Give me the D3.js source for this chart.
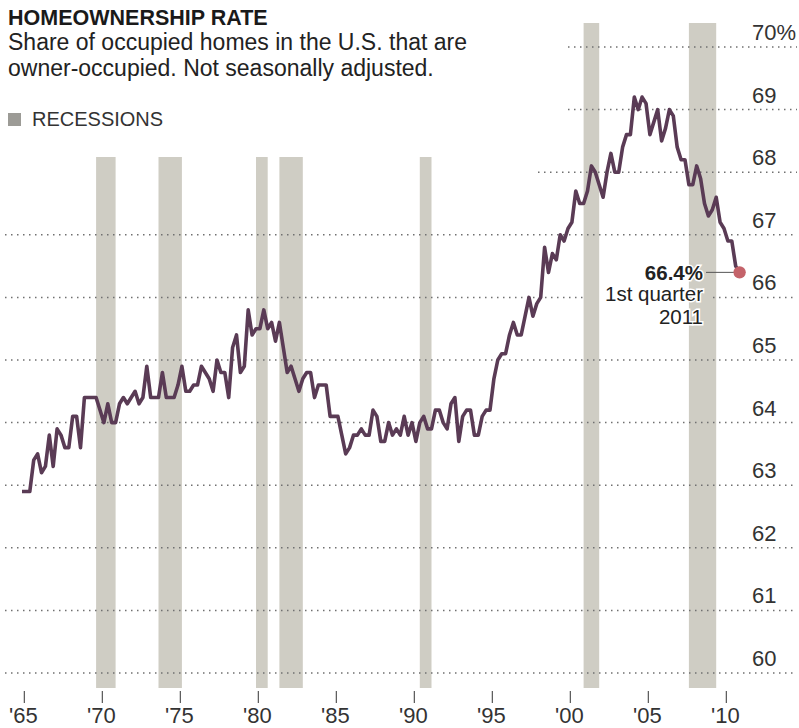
<!DOCTYPE html>
<html>
<head>
<meta charset="utf-8">
<script src="https://cdn.jsdelivr.net/npm/d3@7"></script>
<style>
  body { margin: 0; background: #fff; }
  svg { display: block; }
  text { font-family: "Liberation Sans", Arial, sans-serif; }
</style>
</head>
<body>
<svg id="chart"></svg>
<script>
// quarterly homeownership rate, 1965 Q1 .. 2011 Q1
const startYear = 1965;
const rates = [
  62.9, 62.9, 62.9, 63.4,   // 1965
  63.5, 63.2, 63.3, 63.8,   // 1966
  63.3, 63.9, 63.8, 63.6,   // 1967
  63.6, 64.1, 64.1, 63.6,   // 1968
  64.4, 64.4, 64.4, 64.4,   // 1969
  64.2, 64.0, 64.3, 64.0,   // 1970
  64.0, 64.3, 64.4, 64.3,   // 1971
  64.4, 64.5, 64.3, 64.4,   // 1972
  64.9, 64.4, 64.4, 64.4,   // 1973
  64.8, 64.4, 64.4, 64.4,   // 1974
  64.6, 64.9, 64.5, 64.5,   // 1975
  64.6, 64.6, 64.9, 64.8,   // 1976
  64.7, 64.5, 65.0, 64.8,   // 1977
  64.8, 64.4, 65.2, 65.4,   // 1978
  64.8, 64.9, 65.8, 65.4,   // 1979
  65.5, 65.5, 65.8, 65.5,   // 1980
  65.6, 65.3, 65.6, 65.2,   // 1981
  64.8, 64.9, 64.7, 64.5,   // 1982
  64.7, 64.8, 64.8, 64.4,   // 1983
  64.6, 64.6, 64.6, 64.1,   // 1984
  64.1, 64.1, 63.8, 63.5,   // 1985
  63.6, 63.8, 63.8, 63.9,   // 1986
  63.8, 63.8, 64.2, 64.1,   // 1987
  63.7, 63.7, 64.0, 63.8,   // 1988
  63.9, 63.8, 64.1, 63.8,   // 1989
  64.0, 63.7, 64.0, 64.1,   // 1990
  63.9, 63.9, 64.2, 64.2,   // 1991
  64.0, 63.9, 64.3, 64.4,   // 1992
  63.7, 64.1, 64.2, 64.2,   // 1993
  63.8, 63.8, 64.1, 64.2,   // 1994
  64.2, 64.7, 65.0, 65.1,   // 1995
  65.1, 65.4, 65.6, 65.4,   // 1996
  65.4, 65.7, 66.0, 65.7,   // 1997
  65.9, 66.0, 66.8, 66.4,   // 1998
  66.7, 66.6, 67.0, 66.9,   // 1999
  67.1, 67.2, 67.7, 67.5,   // 2000
  67.5, 67.7, 68.1, 68.0,   // 2001
  67.8, 67.6, 68.0, 68.3,   // 2002
  68.0, 68.0, 68.4, 68.6,   // 2003
  68.6, 69.2, 69.0, 69.2,   // 2004
  69.1, 68.6, 68.8, 69.0,   // 2005
  68.5, 68.7, 69.0, 68.9,   // 2006
  68.4, 68.2, 68.2, 67.8,   // 2007
  67.8, 68.1, 67.9, 67.5,   // 2008
  67.3, 67.4, 67.6, 67.2,   // 2009
  67.1, 66.9, 66.9, 66.5,   // 2010
  66.4                      // 2011
];

// recession periods, in decimal years (quarter boundaries)
const recessionStarts = [1969.75, 1973.75, 1980.0, 1981.5, 1990.5, 2001.0, 2007.75];
const recessionEnds   = [1971.0, 1975.25, 1980.75, 1983.0, 1991.25, 2002.0, 2009.5];

const yTicks = [60, 61, 62, 63, 64, 65, 66, 67, 68, 69, 70];
const yTickLabels = ["60", "61", "62", "63", "64", "65", "66", "67", "68", "69", "70%"];
const xTickYears = [1965, 1970, 1975, 1980, 1985, 1990, 1995, 2000, 2005, 2010];
const xTickLabels = ["'65", "'70", "'75", "'80", "'85", "'90", "'95", "'00", "'05", "'10"];

const width = 799, height = 728;
const svg = d3.select("#chart").attr("width", width).attr("height", height);

const x = d3.scaleLinear().domain([1965, 2011]).range([22, 739.6]);
const y = d3.scaleLinear().domain([60, 70]).range([673, 47]);

const series = rates.map((v, i) => ({ t: startYear + i / 4, v: v }));
const last = series[series.length - 1];

// recession bars
const recessions = recessionStarts.map((s, i) => ({ s: s, e: recessionEnds[i] }));
svg.append("g").selectAll("rect")
  .data(recessions)
  .join("rect")
  .attr("x", d => x(d.s))
  .attr("width", d => x(d.e) - x(d.s))
  .attr("y", d => d.s >= 2000 ? 23 : 157)
  .attr("height", d => 688 - (d.s >= 2000 ? 23 : 157))
  .attr("fill", "#cfcdc4");

// dotted gridlines (some shortened or broken around the text)
function gridSegments(v) {
  if (v === 70 || v === 69) return [[568, 797]];
  if (v === 68) return [[538, 797]];
  if (v === 66) return [[5, 583], [713, 797]];
  return [[5, 797]];
}
const grid = svg.append("g");
yTicks.forEach(v => {
  gridSegments(v).forEach(([a, b]) => {
    grid.append("line")
      .attr("x1", a).attr("x2", b)
      .attr("y1", y(v)).attr("y2", y(v))
      .attr("stroke", "#707070")
      .attr("stroke-width", 1.5)
      .attr("stroke-dasharray", "1.5,4.5");
  });
});

// y labels
svg.append("g").selectAll("text")
  .data(yTicks)
  .join("text")
  .attr("x", 752)
  .attr("y", d => y(d) - 7)
  .attr("font-size", "22px")
  .attr("fill", "#333")
  .text((d, i) => yTickLabels[i]);

// x ticks and labels
const xt = svg.append("g");
xTickYears.forEach((yr, i) => {
  const px = x(yr + 0.15);
  xt.append("line")
    .attr("x1", px).attr("x2", px)
    .attr("y1", 691).attr("y2", 703)
    .attr("stroke", "#555")
    .attr("stroke-width", 1.2);
  xt.append("text")
    .attr("x", px - 1)
    .attr("y", 723)
    .attr("text-anchor", "middle")
    .attr("font-size", "22px")
    .attr("fill", "#333")
    .text(xTickLabels[i]);
});

// the line
const line = d3.line().x(d => x(d.t)).y(d => y(d.v));
svg.append("path")
  .datum(series)
  .attr("d", line)
  .attr("fill", "none")
  .attr("stroke", "#5a3b55")
  .attr("stroke-width", 3.6)
  .attr("stroke-linejoin", "round");

// annotation for the latest value
svg.append("line")
  .attr("x1", 706).attr("x2", x(last.t) - 4)
  .attr("y1", y(last.v)).attr("y2", y(last.v))
  .attr("stroke", "#555").attr("stroke-width", 1);
svg.append("circle")
  .attr("cx", x(last.t)).attr("cy", y(last.v))
  .attr("r", 6.2)
  .attr("fill", "#c4636a");

const note = svg.append("g")
  .attr("text-anchor", "end")
  .attr("font-size", "20.5px")
  .attr("fill", "#222")
  .attr("stroke", "#fff").attr("stroke-width", 3)
  .attr("paint-order", "stroke");
note.append("text").attr("x", 703).attr("y", y(last.v) + 8)
  .attr("font-weight", "bold").text(last.v.toFixed(1) + "%");
note.append("text").attr("x", 703).attr("y", y(last.v) + 29).text("1st quarter");
note.append("text").attr("x", 703).attr("y", y(last.v) + 52).text("2011");

// title block
svg.append("text")
  .attr("x", 8).attr("y", 25)
  .attr("font-size", "21.5px")
  .attr("font-weight", "bold")
  .attr("fill", "#1a1a1a")
  .text("HOMEOWNERSHIP RATE");
svg.append("text")
  .attr("x", 8).attr("y", 50)
  .attr("font-size", "23px")
  .attr("fill", "#222")
  .text("Share of occupied homes in the U.S. that are");
svg.append("text")
  .attr("x", 8).attr("y", 76)
  .attr("font-size", "23px")
  .attr("fill", "#222")
  .text("owner-occupied. Not seasonally adjusted.");

// legend
svg.append("rect")
  .attr("x", 8).attr("y", 113)
  .attr("width", 13).attr("height", 13)
  .attr("fill", "#9c9b96");
svg.append("text")
  .attr("x", 32).attr("y", 126)
  .attr("font-size", "20px")
  .attr("fill", "#333")
  .text("RECESSIONS");
</script>
</body>
</html>
